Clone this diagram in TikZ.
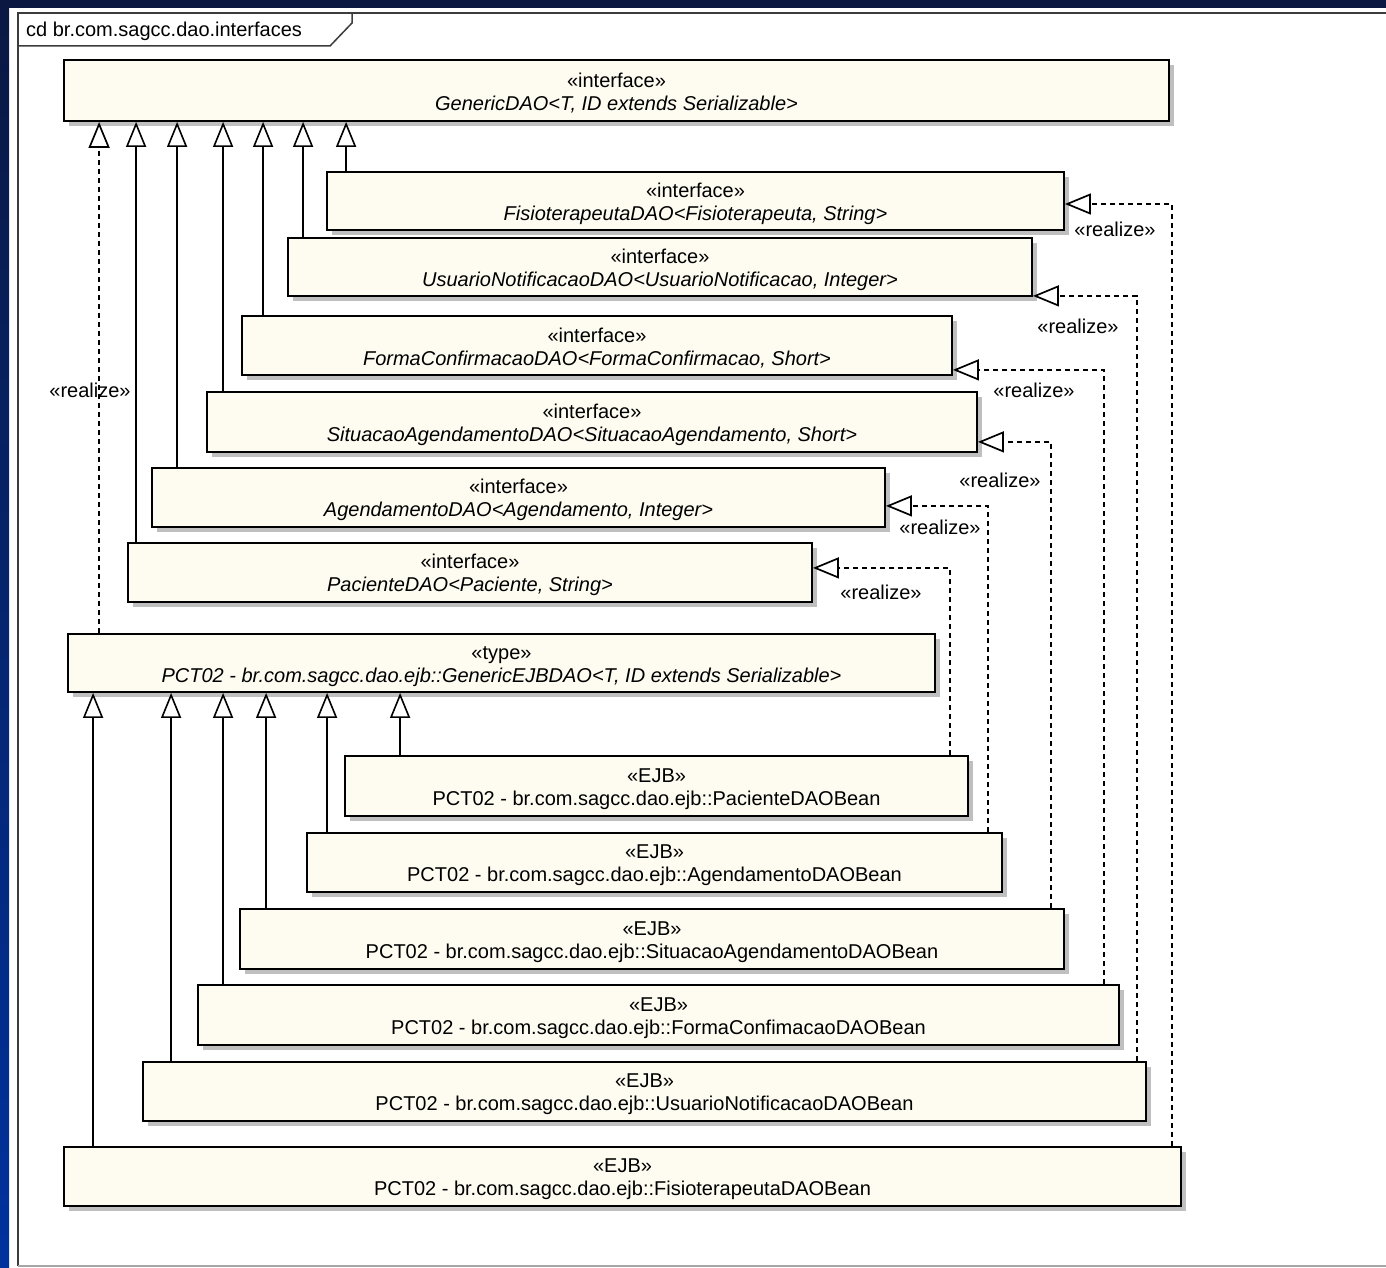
\documentclass[tikz,border=0pt]{standalone}
\usepackage{fontspec}
\setmainfont{Liberation Sans}
\usetikzlibrary{arrows.meta,calc,shadows}

\definecolor{boxfill}{RGB}{254,252,241}
\definecolor{navy}{RGB}{10,24,66}
\definecolor{royal}{RGB}{0,50,158}
\definecolor{framecol}{RGB}{60,60,60}

\newcommand{\sterline}[1]{\rule{0pt}{20pt}#1}

\tikzset{
  umlbox/.style={draw=black, line width=1.8pt, fill=boxfill, align=center, inner sep=0pt,
    general shadow={fill=black!25, shadow xshift=5pt, shadow yshift=-5pt},
    font=\fontsize{20}{23}\selectfont},
  gen/.style={line width=1.6pt, -{Triangle[length=25pt,width=20pt,fill=white]}},
  real/.style={line width=1.7pt, dash pattern=on 5pt off 4pt,
    -{Triangle[length=26pt,width=21pt,fill=white]}},
  lbl/.style={font=\fontsize{20}{23}\selectfont, inner sep=0pt},
}

\begin{document}
\begin{tikzpicture}[x=1pt, y=-1pt]
  \useasboundingbox (0,0) rectangle (1386,1268);
  % page background with blue edges
  \fill[white] (0,0) rectangle (1386,1268);
  \shade[top color=navy, bottom color=royal] (0,0) rectangle (9,1268);
  \fill[navy] (0,0) rectangle (1386,8);

  % diagram frame and its name tab
  \draw[framecol, line width=1.6pt] (18,1266) -- (18,13) -- (1386,13);
  \draw[black!35, line width=1.6pt] (18,1266) -- (1386,1266);
  \draw[framecol, line width=1.5pt] (18,46) -- (330,46) -- (352,23) -- (352,13);
  \node[lbl, anchor=west] (tab) at (26,31) {cd br.com.sagcc.dao.interfaces};

  % interfaces
  \node[umlbox, minimum width=1105, minimum height=61] (generic) at (616.5,90.5)
    {\sterline{«interface»}\\\textit{GenericDAO<T, ID extends Serializable>}};
  \node[umlbox, minimum width=737, minimum height=58] (fisio) at (695.5,201)
    {\sterline{«interface»}\\\textit{FisioterapeutaDAO<Fisioterapeuta, String>}};
  \node[umlbox, minimum width=744, minimum height=58] (usuario) at (660,267)
    {\sterline{«interface»}\\\textit{UsuarioNotificacaoDAO<UsuarioNotificacao, Integer>}};
  \node[umlbox, minimum width=710, minimum height=59] (forma) at (597,345.5)
    {\sterline{«interface»}\\\textit{FormaConfirmacaoDAO<FormaConfirmacao, Short>}};
  \node[umlbox, minimum width=770, minimum height=60] (situacao) at (592,422)
    {\sterline{«interface»}\\\textit{SituacaoAgendamentoDAO<SituacaoAgendamento, Short>}};
  \node[umlbox, minimum width=733, minimum height=59] (agend) at (518.5,497.5)
    {\sterline{«interface»}\\\textit{AgendamentoDAO<Agendamento, Integer>}};
  \node[umlbox, minimum width=684, minimum height=59] (paciente) at (470,572.5)
    {\sterline{«interface»}\\\textit{PacienteDAO<Paciente, String>}};

  % generic EJB type
  \node[umlbox, minimum width=867, minimum height=58] (ejb) at (501.5,663)
    {\sterline{«type»}\\\textit{PCT02 - br.com.sagcc.dao.ejb::GenericEJBDAO<T, ID extends Serializable>}};

  % EJB beans
  \node[umlbox, minimum width=623, minimum height=60] (pacbean) at (656.5,786)
    {\sterline{«EJB»}\\PCT02 - br.com.sagcc.dao.ejb::PacienteDAOBean};
  \node[umlbox, minimum width=695, minimum height=59] (agbean) at (654.5,862.5)
    {\sterline{«EJB»}\\PCT02 - br.com.sagcc.dao.ejb::AgendamentoDAOBean};
  \node[umlbox, minimum width=824, minimum height=60] (sitbean) at (652,939)
    {\sterline{«EJB»}\\PCT02 - br.com.sagcc.dao.ejb::SituacaoAgendamentoDAOBean};
  \node[umlbox, minimum width=921, minimum height=60] (formbean) at (658.5,1015)
    {\sterline{«EJB»}\\PCT02 - br.com.sagcc.dao.ejb::FormaConfimacaoDAOBean};
  \node[umlbox, minimum width=1003, minimum height=59] (usubean) at (644.5,1091.5)
    {\sterline{«EJB»}\\PCT02 - br.com.sagcc.dao.ejb::UsuarioNotificacaoDAOBean};
  \node[umlbox, minimum width=1117, minimum height=59] (fisbean) at (622.5,1176.5)
    {\sterline{«EJB»}\\PCT02 - br.com.sagcc.dao.ejb::FisioterapeutaDAOBean};

  % interface generalizations
  \draw[gen] ($(fisio.north west)+(20,0)$) coordinate (g1) -- (g1 |- generic.south);
  \draw[gen] ($(usuario.north west)+(16,0)$) coordinate (g2) -- (g2 |- generic.south);
  \draw[gen] ($(forma.north west)+(22,0)$) coordinate (g3) -- (g3 |- generic.south);
  \draw[gen] ($(situacao.north west)+(17,0)$) coordinate (g4) -- (g4 |- generic.south);
  \draw[gen] ($(agend.north west)+(26,0)$) coordinate (g5) -- (g5 |- generic.south);
  \draw[gen] ($(paciente.north west)+(9,0)$) coordinate (g6) -- (g6 |- generic.south);

  % bean generalizations
  \draw[gen] ($(pacbean.north west)+(56,0)$) coordinate (b1) -- (b1 |- ejb.south);
  \draw[gen] ($(agbean.north west)+(21,0)$) coordinate (b2) -- (b2 |- ejb.south);
  \draw[gen] ($(sitbean.north west)+(27,0)$) coordinate (b3) -- (b3 |- ejb.south);
  \draw[gen] ($(formbean.north west)+(26,0)$) coordinate (b4) -- (b4 |- ejb.south);
  \draw[gen] ($(usubean.north west)+(29,0)$) coordinate (b5) -- (b5 |- ejb.south);
  \draw[gen] ($(fisbean.north west)+(30,0)$) coordinate (b6) -- (b6 |- ejb.south);

  % realizations
  \draw[real] ($(ejb.north west)+(32,0)$) coordinate (r0) -- (r0 |- generic.south);
  \draw[real] ($(fisbean.north east)+(-10,0)$) |- ($(fisio.east)+(0,3)$);
  \draw[real] ($(usubean.north east)+(-10,0)$) |- ($(usuario.south east)+(0,-1)$);
  \draw[real] ($(formbean.north east)+(-16,0)$) |- ($(forma.south east)+(0,-6)$);
  \draw[real] ($(sitbean.north east)+(-14,0)$) |- ($(situacao.south east)+(0,-11)$);
  \draw[real] ($(agbean.north east)+(-15,0)$) |- ($(agend.south east)+(0,-22)$);
  \draw[real] ($(pacbean.north east)+(-19,0)$) |- ($(paciente.south east)+(0,-35)$);

  % realization labels
  \node[lbl] (l0) at (90,390) {«realize»};
  \node[lbl] (l1) at (1115,229) {«realize»};
  \node[lbl] (l2) at (1078,326) {«realize»};
  \node[lbl] (l3) at (1034,390) {«realize»};
  \node[lbl] (l4) at (1000,480) {«realize»};
  \node[lbl] (l5) at (940,527) {«realize»};
  \node[lbl] (l6) at (881,592) {«realize»};
\end{tikzpicture}
\end{document}
